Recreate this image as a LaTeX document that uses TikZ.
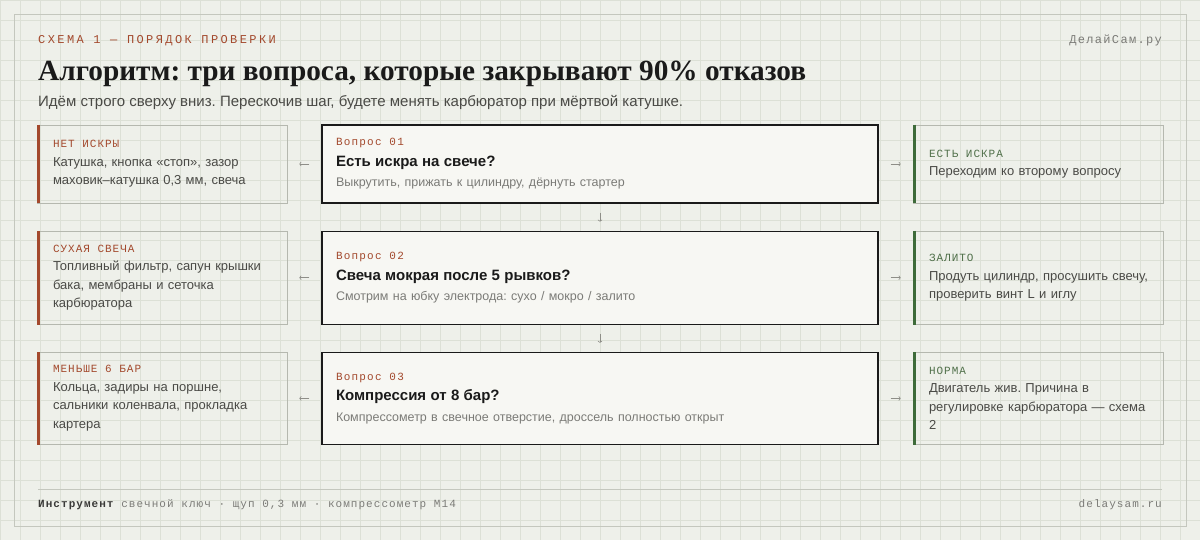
\documentclass[tikz,border=0pt]{standalone}
\usepackage{fontspec}
\setmainfont{Liberation Sans}
\newfontfamily\serifbold{Liberation Serif}
\newfontfamily\kickerfont{Liberation Mono}[LetterSpace=20]
\newfontfamily\tagfont{Liberation Mono}[LetterSpace=9]
\newfontfamily\numfont{Liberation Mono}[LetterSpace=11]
\newfontfamily\footfont{Liberation Mono}[LetterSpace=9.5]
\usetikzlibrary{positioning, arrows.meta}

\definecolor{paper}{HTML}{EEF0EA}
\definecolor{gridc}{HTML}{DCE0D6}
\definecolor{framec}{HTML}{C4C7BE}
\definecolor{rust}{HTML}{A3492D}
\definecolor{moss}{HTML}{3E6B3A}
\definecolor{mossdark}{HTML}{50704A}
\definecolor{ink}{HTML}{1A1A1A}
\definecolor{cardfill}{HTML}{F7F7F3}
\definecolor{edge}{HTML}{B5B8AF}
\definecolor{bodytext}{HTML}{4A4A46}
\definecolor{notegray}{HTML}{7B7B77}
\definecolor{arrowgray}{HTML}{8E8E88}
\definecolor{footdark}{HTML}{3A3A38}

\newcommand{\redtag}[1]{{\tagfont\fontsize{11}{11}\selectfont\spaceskip=0pt\color{rust}#1}}
\newcommand{\greentag}[1]{{\tagfont\fontsize{11}{11}\selectfont\spaceskip=0pt\color{mossdark}#1}}
\newcommand{\qnum}[1]{{\numfont\fontsize{11}{11}\selectfont\spaceskip=0pt\color{rust}#1}}
\newcommand{\qtitle}[1]{{\fontsize{15}{15}\selectfont\bfseries\color{ink}#1}}
\newcommand{\qnote}[1]{{\fontsize{12.5}{12.5}\selectfont\color{notegray}#1}}
\frenchspacing

\begin{document}
\begin{tikzpicture}[x=1pt, y=-1pt,
    qbox/.style={draw=ink, line width=1.2pt, fill=cardfill, minimum width=556pt, text width=528pt,
      inner xsep=14pt, inner ysep=0pt, align=left, font=\fontsize{13}{20.5}\selectfont},
    sidebox/.style={draw=edge, line width=0.8pt, minimum width=250pt, text width=218pt,
      inner xsep=16pt, inner ysep=0pt, align=left, text=bodytext, font=\fontsize{13}{18.5}\selectfont},
    flow/.style={draw=arrowgray, line width=0.6pt, -{To[length=2pt,width=4.5pt]}, shorten >=12pt, shorten <=12pt},
    bar/.style={line width=3pt},
    gridline/.style={draw=gridc, line width=0.6pt},
    plain/.style={inner sep=0pt}]
  \fill[paper] (0,0) rectangle (1200,540);
  \useasboundingbox (0,0) rectangle (1200,540);
  \foreach \gx in {0,20,...,1200} \draw[gridline] (\gx,0) -- (\gx,540);
  \foreach \gy in {0,20,...,540} \draw[gridline] (0,\gy) -- (1200,\gy);
  \draw[framec, line width=0.8pt] (14,14) rectangle (1186,526);

  \node[plain, anchor=base west, font=\kickerfont\fontsize{12}{12}\selectfont, text=rust] (kicker) at (38,44) {СХЕМА 1 — ПОРЯДОК ПРОВЕРКИ};
  \node[plain, anchor=base east, font=\numfont\fontsize{12}{12}\selectfont, text=notegray] (site) at (1162,44) {ДелайСам.ру};
  \node[plain, anchor=base west, font=\serifbold\bfseries\fontsize{29.3}{29.3}\selectfont, text=ink] (title) at (38,81) {Алгоритм: три вопроса, которые закрывают 90\% отказов};
  \node[plain, anchor=base west, font=\fontsize{15}{15}\selectfont, text=bodytext] (lead) at (38,107) {Идём строго сверху вниз. Перескочив шаг, будете менять карбюратор при мёртвой катушке.};

  \node[qbox, minimum height=78pt] (q1) at (600,164) {\qnum{Вопрос 01}\\ \qtitle{Есть искра на свече?}\\ \qnote{Выкрутить, прижать к цилиндру, дёрнуть стартер}};
  \node[qbox, minimum height=93pt, below=27pt of q1] (q2) {\qnum{Вопрос 02}\\ \qtitle{Свеча мокрая после 5 рывков?}\\ \qnote{Смотрим на юбку электрода: сухо / мокро / залито}};
  \node[qbox, minimum height=92pt, below=27pt of q2] (q3) {\qnum{Вопрос 03}\\ \qtitle{Компрессия от 8 бар?}\\ \qnote{Компрессометр в свечное отверстие, дроссель полностью открыт}};

  \node[sidebox, minimum height=78pt, left=34pt of q1] (l1) {\redtag{НЕТ ИСКРЫ}\\ Катушка, кнопка «стоп», зазор\\ маховик–катушка 0,3 мм, свеча};
  \node[sidebox, minimum height=93pt, left=34pt of q2] (l2) {\redtag{СУХАЯ СВЕЧА}\\ Топливный фильтр, сапун крышки\\ бака, мембраны и сеточка\\ карбюратора};
  \node[sidebox, minimum height=92pt, left=34pt of q3] (l3) {\redtag{МЕНЬШЕ 6 БАР}\\ Кольца, задиры на поршне,\\ сальники коленвала, прокладка\\ картера};

  \node[sidebox, minimum height=78pt, right=34pt of q1] (r1) {\greentag{ЕСТЬ ИСКРА}\\ Переходим ко второму вопросу};
  \node[sidebox, minimum height=93pt, right=34pt of q2] (r2) {\greentag{ЗАЛИТО}\\ \mbox{Продуть цилиндр, просушить свечу,}\\ проверить винт L и иглу};
  \node[sidebox, minimum height=92pt, right=34pt of q3] (r3) {\greentag{НОРМА}\\ Двигатель жив. Причина в\\ \mbox{регулировке карбюратора — схема}\\ 2};

  \foreach \n in {l1,l2,l3} \draw[bar, rust] ([xshift=1.5pt]\n.north west) -- ([xshift=1.5pt]\n.south west);
  \foreach \n in {r1,r2,r3} \draw[bar, moss] ([xshift=1.5pt]\n.north west) -- ([xshift=1.5pt]\n.south west);

  \foreach \q/\s in {q1/l1,q2/l2,q3/l3,q1/r1,q2/r2,q3/r3} \draw[flow] (\q) -- (\s);
  \draw[flow, shorten >=9pt, shorten <=9pt] (q1) -- (q2);
  \draw[flow, shorten >=9pt, shorten <=9pt] (q2) -- (q3);

  \draw[framec, line width=0.8pt] (38,489) -- (1162,489);
  \node[plain, anchor=base west, font=\footfont\fontsize{11}{11}\selectfont, text=notegray] (tools) at (38,507) {\textcolor{footdark}{\bfseries Инструмент} свечной ключ · щуп 0,3 мм · компрессометр М14};
  \node[plain, anchor=base east, font=\footfont\fontsize{11}{11}\selectfont, text=notegray] (domain) at (1162,507) {delaysam.ru};
\end{tikzpicture}
\end{document}
